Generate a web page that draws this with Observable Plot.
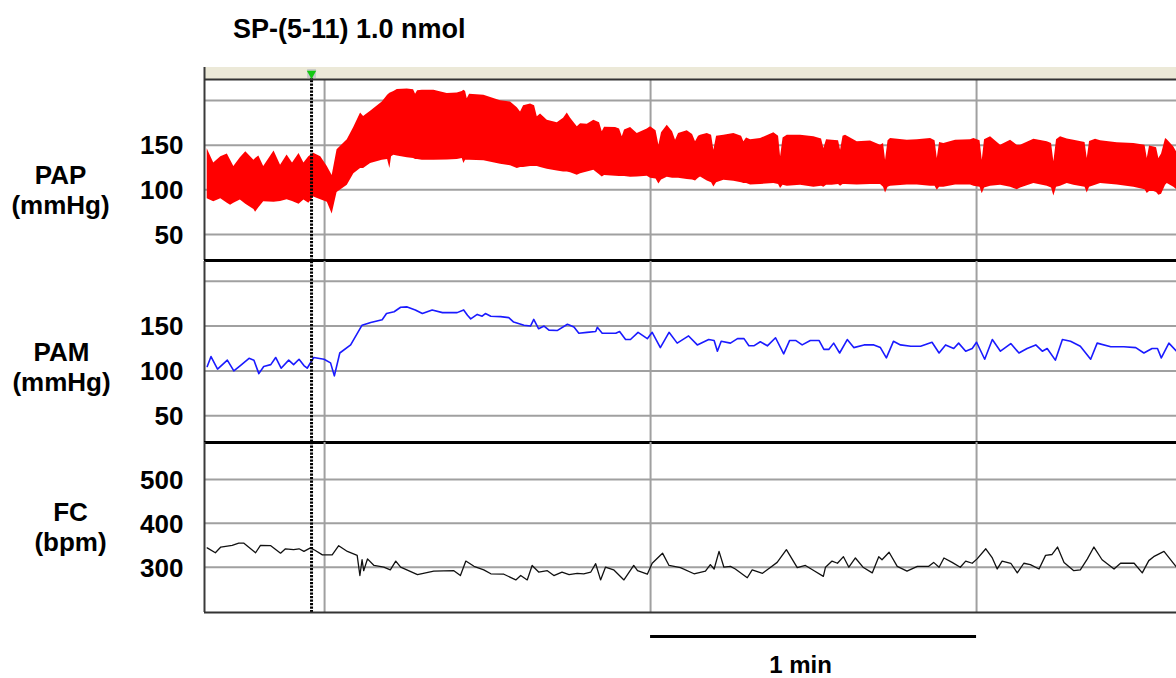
<!DOCTYPE html>
<html>
<head>
<meta charset="utf-8">
<script src="https://cdn.jsdelivr.net/npm/d3@7"></script>
<script src="https://cdn.jsdelivr.net/npm/@observablehq/plot@0.6"></script>
<style>
  html, body { margin: 0; padding: 0; background: #fff; }
  #chart { position: relative; width: 1176px; height: 678px; overflow: hidden; background: #fff;
    font-family: "Liberation Sans", Arial, Helvetica, sans-serif; font-weight: bold; color: #000; }
  #title { position: absolute; left: 233px; top: 14px; font-size: 27px; line-height: 30px; white-space: nowrap; }
  #toolbar { position: absolute; left: 204px; top: 67px; width: 972px; height: 12px; background: #ece9d8; }
</style>
</head>
<body>
<div id="chart">
  <div id="toolbar"></div>
  <div id="title">SP-(5-11) 1.0 nmol</div>
</div>
<script>
// Time axis (seconds, 0 = first minute gridline)
const timeDomain = [-22.1, 156.8];
const minuteGrid = [0, 60, 120];
const injectionTime = -2.4;
const scaleBarStart = 60;
const scaleBarEnd = 120;
const scaleBarLabel = "1 min";

// PAP: pulsatile pressure, systolic (upper) and diastolic (lower) envelope, mmHg
const papTime = [
  -21.6,-20.4,-19.1,-17.9,-17.3,-16.7,-15.5,-14.5,-13.0,-12.7,-12.1,-11.2,-9.3,-8.1,-6.9,-5.9,-4.7,-3.8,-2.9,-2.0,-0.7,0.5,1.4,2.3,
  4.18,5.39,6.63,7.18,8.47,10.62,11.60,12.02,12.33,12.75,13.38,15.22,16.38,16.75,17.12,17.98,20.12,22.58,24.42,25.34,25.64,25.95,26.26,26.69,29.32,
  32.39,34.23,35.47,36.07,36.63,37.91,38.65,39.15,39.75,40.99,42.83,43.99,44.67,45.28,46.51,47.12,48.35,49.56,50.61,51.11,
  51.53,53.56,54.29,54.79,55.21,56.32,57.55,59.39,60.00,61.01,61.53,62.02,63.07,64.05,64.60,65.15,66.75,67.73,68.28,68.83,
  69.20,70.44,71.23,71.65,72.15,73.49,75.33,76.75,77.17,77.67,78.41,80.25,82.69,83.56,83.93,84.39,85.16,87.61,90.06,91.47,
  91.90,92.39,93.44,94.60,94.97,95.43,95.89,98.04,100.49,102.33,102.88,103.25,103.71,104.17,107.25,109.09,111.53,112.36,112.77,113.19,
  113.98,116.14,118.90,119.51,120.64,121.05,121.47,122.58,124.42,126.26,127.49,128.10,130.55,133.01,133.80,134.23,134.72,135.46,136.69,137.91,
  139.97,140.37,140.80,141.90,142.82,145.90,148.95,151.01,151.42,151.84,152.63,153.13,153.55,154.05,154.79,155.10,156.31,156.81];
const papUpper = [
  146,130,137,140,133,126,136,142.5,133,135,138,126,143.6,127.6,139,130,140.7,130,137,141,137,126,116,145,
  156,170,186,182,188,198.4,206,208,209,210,212.3,213,212,207,211,211.5,211.5,207.8,208.5,210,211.5,210,202,207,206,
  199.6,198.4,192,187,194,196,194,181.7,185,178,175,180,186,180,170.5,174,173.5,178,175,165,
  170,169.8,168,159.3,167,169.8,163,168,170.5,166,150,164,172.4,165,155.6,163,166,162,153.7,160,
  161,163,161,144.4,160,161,163,160,153.7,158,156,157.5,163.8,160,137,158,161,161,159.3,157,
  146.3,156,155.6,155,144.4,160,161,153.7,154.8,150,152,133.2,155,157.5,155.6,156,157.5,155,135,153,
  152,155.6,156,157.5,155,133.2,156,159.3,150,155.6,150,150,156.5,153.7,152,131.3,156,159.3,157,155.6,
  153,135,154,156.5,155,152.6,152,150,135,149,148,147,135,140,157.5,156,148,142.5];
const papLower = [
  90,86.6,90,85,82.8,85,88.5,84,78,75,80,86.6,86,87,89,87,84,88.5,85,92,89,86,73,97,
  105,118,124,124,129.5,133,134,124,137,138.8,138,136,135,134,134,133,133,133.5,134,135,129.5,133,133,133,132.5,
  128.7,127,124,125,125,126,126,126,125,123,121,120,120,119,116.4,118,120,122,117,114.5,
  116,115.3,115,115,115,114,114.5,115.3,113,112,106.4,111,114,113,113,113,111.6,111,110,113,
  114.5,110,108,103.2,108,110.8,109.5,108,107,107,105.3,106,107,106,101.4,105,104,105,103,104,
  102.8,105,105,106,104,106,106,105.3,106,106,103,96.4,103,104,105.3,105.3,104,104,99.4,103,
  103,105.3,105.3,104,103,95.7,102,104,105,103,100.2,102,107,104,102,93,103,104,107,105,
  103,96.4,103,105,107,105.3,102.8,100,96,98,98,97,94,95,105,107,103,100.2];

// PAM: mean arterial pressure, mmHg
const pamTime = [-21.6,-20.9,-19.7,-17.9,-16.7,-15.5,-13.9,-13.0,-12.1,-11.2,
  -9.9,-9.0,-8.0,-6.6,-5.7,-4.7,-3.8,-3.2,-2.0,-0.1,
  1.1,1.8,2.8,4.8,6.9,8.5,10.6,11.4,12.8,14.0,
  15.2,16.7,18.0,19.8,21.7,24.4,25.6,26.3,26.9,28.1,
  29.0,29.6,30.6,32.4,33.9,34.8,36.7,37.9,38.5,39.4,
  40.4,41.3,42.8,44.7,45.9,46.8,48.3,49.9,50.2,51.1,
  53.6,54.3,55.4,56.3,57.7,59.4,60.3,61.8,63.4,64.9,
  67.0,68.6,70.7,71.7,72.3,73.0,74.7,76.0,77.2,78.1,
  79.0,80.2,81.5,83.0,84.5,85.6,86.7,87.9,89.4,91.0,
  91.9,92.8,93.7,94.8,96.2,97.4,99.3,101.1,102.3,103.4,
  104.7,106.0,107.9,109.7,111.8,113.1,114.3,115.8,116.7,118.0,
  119.2,120.0,121.5,122.9,124.4,126.3,127.8,129.3,130.9,132.1,
  133.0,134.5,135.8,137.3,139.1,141.0,142.2,144.7,147.1,149.3,
  150.8,152.3,153.3,154.0,155.4,156.8];
const pamValue = [105,116,102,112,100,106,114,112,97,105,
  107,115,103,112,107,113,106,103,115,113,
  109,94.5,120,129,151,154,157,164,166,171,
  171.4,168,164,168,165,165,168,162,158,163,
  161,164,161,160.5,159.4,154.5,151,150,157.5,147,
  150,145.5,145,152,149,142,143,144,148.6,142,
  142,144,135,135,143,136,143,126,143,131,
  139,129,135,134,122,133,131,136,136,128,
  128,132.5,128,137,119,134,134,129,134,134,
  124,124,131,120,135,126,129,129,126,114.5,
  133,129,127.5,127.5,132,120,129,125,131,122,
  125,132,113,135,122,130.5,120,125,129,122,
  125,112,135,133,127.5,113,131,127,127,126,
  120,125,125,114.5,131,122];

// FC: heart rate, bpm
const fcTime = [-21.6,-20.1,-19.1,-17.0,-15.8,-14.9,-12.7,-11.8,-9.9,-8.1,
  -7.2,-5.7,-4.7,-3.8,-2.6,-1.7,-0.4,1.4,2.6,4.2,
  6.0,6.5,6.9,7.2,7.9,9.1,10.9,12.1,13.1,14.0,
  17.1,20.1,23.8,25.0,26.0,27.5,29.3,30.6,33.0,35.2,
  36.1,37.3,38.2,39.4,41.0,42.2,43.7,45.0,46.5,47.7,
  49.0,49.9,50.8,51.7,53.2,55.1,56.9,57.6,59.4,60.3,
  62.2,63.4,65.5,68.0,70.1,71.0,71.7,72.6,73.5,74.7,
  75.6,77.8,78.7,80.6,82.1,83.3,85.0,87.0,88.5,90.1,
  91.8,92.2,93.4,94.4,95.5,96.5,97.7,99.1,100.8,102.0,
  102.6,103.9,105.4,107.2,109.1,111.2,112.1,113.1,114.0,115.5,
  117.0,118.0,119.2,120.1,121.7,122.9,123.8,124.7,126.3,127.5,
  128.7,129.9,131.5,132.7,133.9,134.9,136.1,137.9,139.1,140.4,
  141.6,143.1,145.3,146.5,147.7,149.0,150.5,151.7,152.6,154.5,
  156.1,156.8];
const fcValue = [344,333,346,350,355,355,333,350,349,332,
  342,340,342,336,344,338,328,328,349,336,
  327,281,317,292,319,304,300,294,314,300,
  283,291,292,281,314,302,294,285,284,271,
  281,271,304,289,292,281,289,283,286,285,
  289,308,271,300,294,271,304,292,284,309,
  332,304,299,285,291,306,296,336,300,302,
  296,276,294,286,300,311,340,299,304,292,
  279,300,314,309,324,300,321,300,287,324,
  317,334,302,291,302,302,311,300,321,311,
  300,314,309,319,342,321,296,314,309,287,
  309,306,296,327,329,346,311,292,294,319,
  346,317,296,309,309,309,287,315,324,336,
  311,300];

// Channel tick values and gridlines
const papTicks = [50, 100, 150];
const papGrid = [50, 100, 150, 200];
const pamTicks = [50, 100, 150];
const pamGrid = [50, 100, 150, 200];
const fcTicks = [300, 400, 500];
const fcGrid = [300, 400, 500];

const papDomain = [20.9, 223.5];
const pamDomain = [20.2, 222];
const fcDomain = [196.7, 584.4];

const FONT = '"Liberation Sans", Arial, Helvetica, sans-serif';
const GRID = "#a0a0a0";
const chart = document.getElementById("chart");

// One recorder channel: gridlines, trace, tick labels, channel name, borders
function channel({top, frameTop, frameBottom, marginBottom = 3, yDomain, grid, ticks,
                  label, labelX, labelDy, marks = [], extra = [], borderInsetTop = 0, injInsetTop = 0}) {
  const plot = Plot.plot({
    width: 1176,
    height: frameBottom + marginBottom - top,
    marginLeft: 204,
    marginRight: 0,
    marginTop: frameTop - top,
    marginBottom,
    style: {background: "transparent", fontFamily: FONT, fontWeight: "bold", fontSize: "26px", color: "#000"},
    x: {domain: timeDomain, axis: null},
    y: {domain: yDomain},
    marks: [
      Plot.gridY(grid, {stroke: GRID, strokeOpacity: 1, strokeWidth: 2}),
      Plot.gridX(minuteGrid, {stroke: GRID, strokeOpacity: 1, strokeWidth: 2}),
      ...marks,
      Plot.ruleX([injectionTime], {stroke: "#000", strokeWidth: 3, strokeDasharray: "2.2,1.3", insetTop: injInsetTop}),
      Plot.axisY(ticks, {anchor: "left", tickSize: 0, tickPadding: 21, label: null, fontSize: 26, fontWeight: "bold", dy: 1}),
      Plot.text([label], {frameAnchor: "left", dx: labelX - 204, dy: labelDy, textAnchor: "middle",
        lineAnchor: "middle", lineHeight: 1.154, fontSize: 26, fontWeight: "bold"}),
      Plot.ruleX([timeDomain[0]], {stroke: "#3a3a3a", strokeWidth: 2, insetTop: borderInsetTop}),
      ...extra
    ]
  });
  plot.style.position = "absolute";
  plot.style.left = "0px";
  plot.style.top = top + "px";
  chart.appendChild(plot);
}

// PAP
channel({
  top: 60, frameTop: 79, frameBottom: 260,
  yDomain: papDomain, grid: papGrid, ticks: papTicks,
  label: "PAP\n(mmHg)", labelX: 60, labelDy: 19.5,
  borderInsetTop: -12, injInsetTop: -6,
  marks: [
    Plot.areaY(papTime, {x: papTime, y1: papLower, y2: papUpper, fill: "#ff0000"})
  ],
  extra: [
    Plot.ruleY([papDomain[1]], {stroke: "#333", strokeWidth: 2}),
    Plot.ruleY([papDomain[0]], {stroke: "#000", strokeWidth: 3}),
    Plot.dot([injectionTime], {x: d => d, frameAnchor: "top", dy: -6, symbol: "square", r: 5, fill: "#c8c8c8"}),
    Plot.dot([injectionTime], {x: d => d, frameAnchor: "top", dy: -6, symbol: "triangle", r: 3.5, fill: "#12c812", rotate: 180})
  ]
});

// PAM
channel({
  top: 258, frameTop: 261, frameBottom: 442,
  yDomain: pamDomain, grid: pamGrid, ticks: pamTicks,
  label: "PAM\n(mmHg)", labelX: 61, labelDy: 14.5,
  marks: [
    Plot.lineY(pamValue, {x: pamTime, stroke: "#1a1aff", strokeWidth: 1.6})
  ],
  extra: [
    Plot.ruleY([pamDomain[0]], {stroke: "#000", strokeWidth: 3})
  ]
});

// FC, with the time scale bar underneath
channel({
  top: 439, frameTop: 442, frameBottom: 612, marginBottom: 66,
  yDomain: fcDomain, grid: fcGrid, ticks: fcTicks,
  label: "FC\n(bpm)", labelX: 70, labelDy: -1,
  marks: [
    Plot.lineY(fcValue, {x: fcTime, stroke: "#111", strokeWidth: 1.3})
  ],
  extra: [
    Plot.ruleY([fcDomain[0]], {stroke: "#333", strokeWidth: 2}),
    Plot.ruleY([fcDomain[0]], {x1: scaleBarStart, x2: scaleBarEnd, dy: 24, stroke: "#000", strokeWidth: 3}),
    Plot.text([scaleBarLabel], {x: (scaleBarStart + scaleBarEnd) / 2, frameAnchor: "bottom", dx: -13, dy: 53,
      lineAnchor: "middle", textAnchor: "middle", fontSize: 24, fontWeight: "bold"})
  ]
});
</script>
</body>
</html>
